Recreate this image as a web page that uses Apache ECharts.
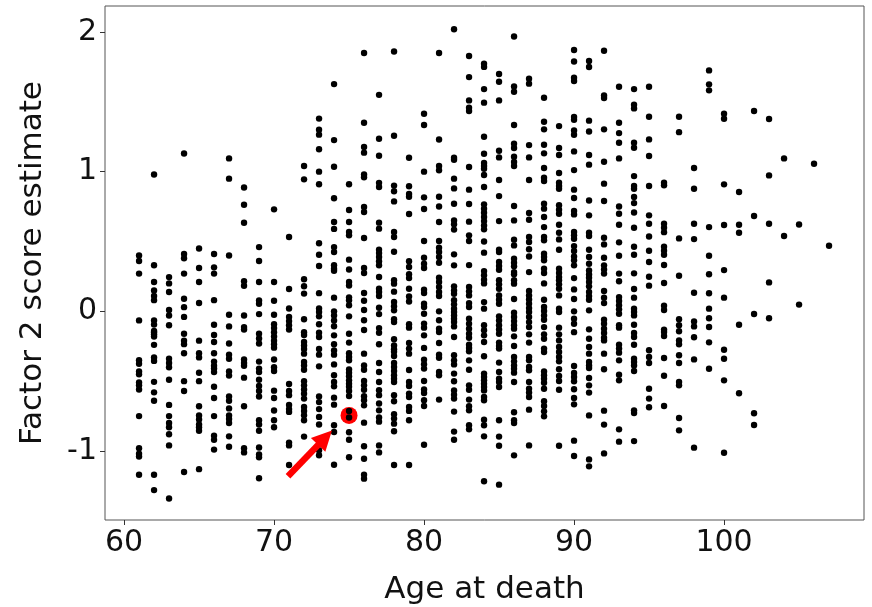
<!DOCTYPE html>
<html>
<head>
<meta charset="utf-8">
<style>
  html, body { margin: 0; padding: 0; background: #fff; }
  #main { width: 872px; height: 607px; }
</style>
<script src="https://cdn.jsdelivr.net/npm/echarts@6/dist/echarts.min.js"></script>
</head>
<body>
<div id="main"></div>
<script>
// estimates, one list per age at death
const ages = [61,62,63,64,65,66,67,68,69,70,71,72,73,74,75,76,77,78,79,80,81,82,83,84,85,86,87,88,89,90,91,92,93,94,95,96,97,98,99,100,101,102,103,104,105,106,107];
const factor2Scores = [
  [0.40,0.36,0.27,-0.065,-0.35,-0.375,-0.43,-0.45,-0.51,-0.53,-0.56,-0.75,-0.98,-1.02,-1.04,-1.17],
  [0.98,0.33,0.21,0.15,0.11,0.08,-0.065,-0.095,-0.14,-0.15,-0.165,-0.18,-0.24,-0.33,-0.355,-0.505,-0.58,-0.64,-1.17,-1.28],
  [0.245,0.20,0.138,0.01,-0.03,-0.10,-0.34,-0.37,-0.40,-0.49,-0.67,-0.75,-0.80,-0.83,-0.88,-0.96,-1.34],
  [1.13,0.41,0.38,0.27,0.09,0.03,-0.04,-0.16,-0.21,-0.235,-0.30,-0.50,-0.57,-1.15],
  [0.45,0.31,0.21,0.06,-0.21,-0.30,-0.33,-0.44,-0.50,-0.68,-0.745,-0.775,-0.81,-0.83,-0.855,-1.13],
  [0.41,0.315,0.27,0.08,-0.096,-0.17,-0.22,-0.30,-0.36,-0.39,-0.41,-0.435,-0.54,-0.62,-0.75,-0.89,-0.92,-0.99],
  [1.095,0.95,0.40,-0.025,-0.108,-0.23,-0.31,-0.34,-0.43,-0.46,-0.61,-0.64,-0.695,-0.745,-0.77,-0.80,-0.895,-0.97],
  [0.887,0.763,0.634,0.216,0.183,-0.03,-0.113,-0.13,-0.345,-0.37,-0.39,-0.475,-0.68,-0.98,-1.01],
  [0.46,0.36,0.21,0.078,0.054,-0.02,-0.16,-0.195,-0.23,-0.36,-0.41,-0.435,-0.49,-0.535,-0.57,-0.61,-0.78,-0.81,-0.855,-0.975,-1.025,-1.045,-1.195],
  [0.73,0.21,0.076,-0.024,-0.093,-0.12,-0.15,-0.18,-0.21,-0.236,-0.26,-0.345,-0.40,-0.427,-0.568,-0.62,-0.71,-0.78,-0.83],
  [0.532,0.16,0.02,-0.04,-0.07,-0.10,-0.13,-0.52,-0.57,-0.60,-0.67,-0.70,-0.72,-0.94,-0.96,-1.10],
  [1.04,0.945,0.23,0.18,0.127,-0.057,-0.15,-0.17,-0.22,-0.245,-0.27,-0.303,-0.363,-0.387,-0.418,-0.50,-0.53,-0.56,-0.59,-0.625,-0.685,-0.713,-0.744,-0.78,-0.897],
  [1.38,1.30,1.265,1.16,1.00,0.91,0.487,0.405,0.325,0.13,0.02,-0.005,-0.036,-0.093,-0.153,-0.184,-0.27,-0.31,-0.394,-0.61,-0.65,-0.70,-0.756,-0.81,-0.995,-1.03],
  [1.627,1.226,1.035,0.81,0.64,0.59,0.46,0.425,0.33,0.305,0.29,0.098,0,-0.03,-0.065,-0.107,-0.172,-0.236,-0.28,-0.31,-0.38,-0.458,-0.506,-0.537,-0.618,-0.668,-0.816,-0.864,-1.098],
  [0.91,0.725,0.64,0.568,0.544,0.37,0.30,0.21,0.185,0.10,0.08,0.043,-0.036,-0.16,-0.224,-0.30,-0.327,-0.35,-0.417,-0.44,-0.465,-0.494,-0.518,-0.54,-0.57,-0.606,-0.713,-0.76,-0.866,-0.919,-1.045],
  [1.85,1.35,1.176,1.136,0.98,0.96,0.747,0.711,0.525,0.31,0.274,0.131,0.076,0.01,-0.064,-0.134,-0.303,-0.387,-0.418,-0.498,-0.53,-0.561,-0.608,-0.637,-0.673,-0.797,-0.966,-1.055,-1.17,-1.198],
  [1.55,1.236,1.114,0.92,0.89,0.635,0.592,0.441,0.417,0.389,0.358,0.33,0.246,0.162,0.138,0.11,0.026,-0.02,-0.12,-0.153,-0.236,-0.37,-0.434,-0.506,-0.565,-0.60,-0.66,-0.709,-0.76,-0.79,-0.96,-1.01],
  [1.86,1.257,0.90,0.86,0.787,0.568,0.532,0.427,0.222,0.198,0.141,0.067,0.036,0.007,-0.057,-0.077,-0.2,-0.244,-0.272,-0.29,-0.32,-0.37,-0.398,-0.427,-0.458,-0.482,-0.506,-0.60,-0.644,-0.737,-0.768,-0.804,-0.859,-1.10],
  [1.10,0.895,0.84,0.82,0.697,0.358,0.317,0.265,0.238,0.162,0.107,0.07,-0.093,-0.117,-0.227,-0.267,-0.303,-0.42,-0.506,-0.535,-0.589,-0.613,-0.685,-0.713,-0.78,-1.10],
  [1.415,1.334,1.0,0.816,0.733,0.503,0.384,0.341,0.31,0.155,0.131,0.055,0.031,-0.017,-0.088,-0.117,-0.172,-0.262,-0.346,-0.379,-0.41,-0.499,-0.56,-0.585,-0.637,-0.678,-0.955],
  [1.85,1.23,1.04,1.01,0.82,0.75,0.64,0.503,0.456,0.425,0.389,0.348,0.241,0.21,0.174,0.138,0.11,0,-0.064,-0.124,-0.148,-0.227,-0.31,-0.332,-0.434,-0.458,-0.632],
  [2.02,1.10,1.085,0.95,0.88,0.77,0.651,0.623,0.585,0.408,0.329,0.179,0.15,0.126,0.079,0.05,0.019,-0.005,-0.029,-0.053,-0.076,-0.108,-0.184,-0.315,-0.351,-0.38,-0.446,-0.501,-0.566,-0.597,-0.625,-0.718,-0.861,-0.919],
  [1.828,1.677,1.51,1.458,1.434,1.033,0.871,0.768,0.642,0.544,0.503,0.331,0.174,0.143,0.114,0.059,0.031,-0.053,-0.089,-0.124,-0.16,-0.189,-0.239,-0.262,-0.286,-0.351,-0.418,-0.53,-0.561,-0.632,-0.68,-0.709,-0.816,-0.845],
  [1.773,1.75,1.591,1.494,1.25,1.128,1.062,1.04,1.021,0.976,0.89,0.766,0.735,0.706,0.675,0.646,0.615,0.587,0.5,0.42,0.288,0.258,0.226,0.2,0.066,0.019,-0.1,-0.136,-0.172,-0.22,-0.322,-0.446,-0.47,-0.494,-0.518,-0.542,-0.566,-0.613,-0.637,-0.776,-0.816,-0.895,-1.217],
  [1.699,1.644,1.51,1.15,1.102,0.94,0.825,0.646,0.441,0.424,0.353,0.324,0.298,0.222,0.193,0.162,0.114,0.083,0.054,-0.036,-0.065,-0.1,-0.13,-0.16,-0.224,-0.248,-0.267,-0.367,-0.434,-0.482,-0.506,-0.542,-0.78,-0.897,-0.962,-1.241],
  [1.968,1.61,1.572,1.334,1.2,1.169,1.107,1.069,1.04,0.754,0.651,0.513,0.472,0.377,0.348,0.322,0.281,0.265,0.222,0.198,0.088,-0.01,-0.04,-0.07,-0.1,-0.124,-0.179,-0.248,-0.327,-0.358,-0.387,-0.411,-0.439,-0.506,-0.723,-0.78,-0.8,-1.031],
  [1.665,1.63,1.19,1.102,0.94,0.704,0.656,0.532,0.496,0.444,0.393,0.281,0.145,0.114,0.085,0.054,0.023,-0.005,-0.041,-0.077,-0.113,-0.165,-0.224,-0.327,-0.351,-0.399,-0.422,-0.506,-0.554,-0.582,-0.613,-0.704,-0.96],
  [1.529,1.357,1.303,1.193,1.131,1.026,0.957,0.933,0.77,0.735,0.675,0.603,0.532,0.508,0.413,0.389,0.365,0.305,0.274,0.2,0.083,0.031,0.002,-0.029,-0.06,-0.113,-0.165,-0.196,-0.267,-0.291,-0.43,-0.458,-0.482,-0.511,-0.554,-0.644,-0.678,-0.716,-0.752],
  [1.326,1.169,1.119,0.99,0.921,0.897,0.878,0.759,0.728,0.699,0.62,0.563,0.515,0.441,0.305,0.274,0.245,0.222,0.193,0.162,0.114,0.019,-0.005,-0.117,-0.165,-0.208,-0.255,-0.291,-0.327,-0.358,-0.415,-0.463,-0.499,-0.561,-0.962],
  [1.871,1.789,1.672,1.649,1.391,1.372,1.295,1.264,1.145,1.011,0.871,0.811,0.718,0.694,0.568,0.544,0.52,0.467,0.432,0.393,0.365,0.329,0.238,0.157,0.088,0,-0.053,-0.089,-0.149,-0.391,-0.441,-0.47,-0.501,-0.558,-0.62,-0.666,-0.926,-1.036],
  [1.792,1.749,1.365,1.288,1.119,1.05,0.794,0.687,0.563,0.539,0.441,0.389,0.341,0.293,0.264,0.241,0.21,0.179,0.138,0.109,0.083,0.007,-0.129,-0.196,-0.255,-0.303,-0.363,-0.387,-0.406,-0.477,-0.53,-0.582,-0.745,-1.06,-1.11],
  [1.866,1.546,1.527,1.303,1.071,0.914,0.79,0.527,0.479,0.384,0.329,0.3,0.27,0.145,0.098,0.059,-0.06,-0.089,-0.124,-0.155,-0.189,-0.208,-0.303,-0.415,-0.711,-0.811,-1.017],
  [1.608,1.35,1.276,1.207,1.095,0.751,0.699,0.62,0.494,0.398,0.27,0.215,0.102,0.074,0.043,0.014,-0.017,-0.1,-0.117,-0.239,-0.267,-0.296,-0.351,-0.454,-0.494,-0.845,-0.933],
  [1.591,1.479,1.453,1.207,1.171,0.968,0.897,0.878,0.818,0.775,0.708,0.598,0.462,0.405,0.272,0.16,0.098,0.019,-0.005,-0.029,-0.096,-0.155,-0.184,-0.239,-0.339,-0.363,-0.387,-0.427,-0.709,-0.728,-0.929],
  [1.608,1.393,1.231,1.112,0.897,0.687,0.627,0.536,0.434,0.353,0.248,0.184,-0.279,-0.327,-0.37,-0.554,-0.625,-0.687],
  [0.921,0.902,0.627,0.598,0.567,0.462,0.434,0.405,0.332,0.203,0.04,0.009,-0.131,-0.148,-0.177,-0.334,-0.461,-0.678],
  [1.393,1.283,0.522,0.255,-0.057,-0.1,-0.143,-0.208,-0.236,-0.315,-0.37,-0.506,-0.53,-0.764,-0.852],
  [1.026,0.878,0.627,0.517,0.133,-0.072,-0.108,-0.186,-0.344,-0.976],
  [1.725,1.625,1.582,0.603,0.398,0.265,0.129,0.019,-0.05,-0.112,-0.222,-0.411],
  [1.415,1.379,0.909,0.618,0.295,0.098,-0.275,-0.339,-0.494,-1.012],
  [0.854,0.62,0.563,-0.096,-0.587],
  [1.434,0.682,-0.019,-0.73,-0.814],
  [1.377,0.973,0.627,0.207,-0.05],
  [1.095,0.539],
  [0.622,0.048],
  [1.057],
  [0.47]
];
const highlightPoint = [75, -0.745];
const arrowStart = [70.93, -1.18];
const arrowEnd = [73.4, -0.905];
const xTicks = [60, 70, 80, 90, 100];
const yTicks = [-1, 0, 1, 2];

const points = [];
ages.forEach((age, i) => {
  factor2Scores[i].forEach((score) => points.push([age, score]));
});

const fontFamily = "DejaVu Sans";
const chart = echarts.init(document.getElementById("main"), null, { renderer: "canvas" });

chart.setOption({
  animation: false,
  backgroundColor: "#fff",
  grid: {
    left: 105,
    right: 8,
    top: 6,
    bottom: 87,
    outerBoundsMode: "none",
    show: true,
    borderColor: "#555",
    borderWidth: 1
  },
  xAxis: {
    type: "value",
    min: 58.73,
    max: 109.33,
    name: "Age at death",
    nameLocation: "middle",
    nameGap: 54,
    nameTextStyle: { fontSize: 31, color: "#111", fontFamily },
    splitLine: { show: false },
    axisLine: { show: false, onZero: false },
    axisTick: { show: true, length: 5, customValues: xTicks, lineStyle: { color: "#333" } },
    axisLabel: { customValues: xTicks, fontSize: 30, color: "#111", fontFamily, margin: 8 }
  },
  yAxis: {
    type: "value",
    min: -1.494,
    max: 2.186,
    name: "Factor 2 score estimate",
    nameLocation: "middle",
    nameGap: 57,
    nameTextStyle: { fontSize: 31, color: "#111", fontFamily },
    splitLine: { show: false },
    axisLine: { show: false, onZero: false },
    axisTick: { show: true, length: 5, customValues: yTicks, lineStyle: { color: "#333" } },
    axisLabel: { customValues: yTicks, fontSize: 30, color: "#111", fontFamily, margin: 8 }
  },
  series: [
    {
      name: "highlight",
      type: "scatter",
      z: 1,
      symbolSize: 17,
      itemStyle: { color: "#ff0000", opacity: 1 },
      data: [highlightPoint]
    },
    {
      name: "subjects",
      type: "scatter",
      z: 2,
      symbolSize: 6.4,
      itemStyle: { color: "#000", opacity: 1 },
      data: points
    },
    {
      name: "arrow",
      type: "line",
      z: 3,
      data: [],
      markLine: {
        silent: true,
        animation: false,
        symbol: ["none", "triangle"],
        symbolSize: [20, 20],
        label: { show: false },
        lineStyle: { color: "#ff0000", width: 6.5, type: "solid", opacity: 1 },
        data: [[{ coord: arrowStart }, { coord: arrowEnd }]]
      }
    }
  ]
});
</script>
</body>
</html>
